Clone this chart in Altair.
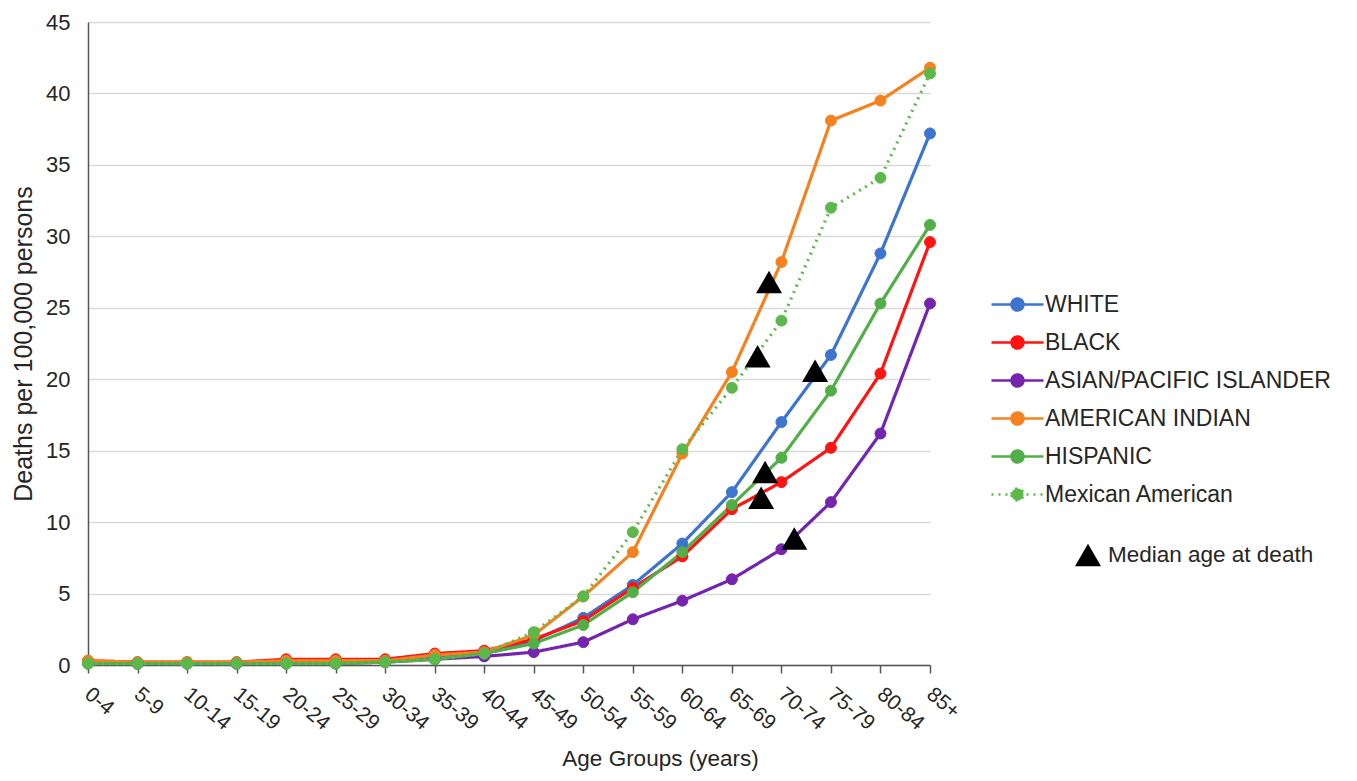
import altair as alt
import pandas as pd

age_groups = ["0-4", "5-9", "10-14", "15-19", "20-24", "25-29", "30-34", "35-39", "40-44",
              "45-49", "50-54", "55-59", "60-64", "65-69", "70-74", "75-79", "80-84", "85+"]

series_names = ["WHITE", "BLACK", "ASIAN/PACIFIC ISLANDER", "AMERICAN INDIAN", "HISPANIC", "Mexican American"]
series_colors = ["#3D74CF", "#FF1414", "#7424AE", "#F5821F", "#52AE47", "#5CB84B"]
series_dash = [[1, 0], [1, 0], [1, 0], [1, 0], [1, 0], [2, 5]]

white = [0.2, 0.1, 0.1, 0.1, 0.2, 0.2, 0.3, 0.6, 0.9, 1.7, 3.3, 5.6, 8.5, 12.1, 17.0, 21.7, 28.8, 37.2]
black = [0.3, 0.2, 0.2, 0.2, 0.4, 0.4, 0.4, 0.8, 1.0, 1.8, 3.1, 5.4, 7.6, 10.9, 12.8, 15.2, 20.4, 29.6]
asian = [0.1, 0.1, 0.1, 0.1, 0.1, 0.1, 0.2, 0.4, 0.6, 0.9, 1.6, 3.2, 4.5, 6.0, 8.1, 11.4, 16.2, 25.3]
american_indian = [0.3, 0.2, 0.2, 0.2, 0.3, 0.3, 0.3, 0.7, 0.9, 2.1, 4.8, 7.9, 14.8, 20.5, 28.2, 38.1, 39.5, 41.8]
hispanic = [0.1, 0.1, 0.1, 0.1, 0.1, 0.1, 0.2, 0.4, 0.8, 1.5, 2.8, 5.1, 7.9, 11.2, 14.5, 19.2, 25.3, 30.8]
mexican_american = [0.1, 0.1, 0.1, 0.1, 0.1, 0.1, 0.2, 0.4, 0.8, 2.3, 4.8, 9.3, 15.1, 19.4, 24.1, 32.0, 34.1, 41.4]

# Median age at death markers: position along the age-group axis (group index) and rate
median_series = ["AMERICAN INDIAN", "Mexican American", "WHITE", "HISPANIC", "BLACK", "ASIAN/PACIFIC ISLANDER"]
median_pos = [13.75, 13.52, 14.68, 13.67, 13.59, 14.26]
median_rate = [26.8, 21.6, 20.6, 13.5, 11.7, 8.85]
median_label = "Median age at death"

all_series = [white, black, asian, american_indian, hispanic, mexican_american]
rows = []
for k, (name, vals) in enumerate(zip(series_names, all_series)):
    for i, (g, v) in enumerate(zip(age_groups, vals)):
        rows.append({"series": name, "idx": i, "age": g, "value": v, "k": k})
df = pd.DataFrame(rows)

tri_df = pd.DataFrame({"series": median_series, "pos": median_pos, "rate": median_rate,
                       "label": [median_label] * len(median_pos)})

FONT = "Liberation Sans"
TXT = "#262626"

label_js = "[" + ",".join("'" + a + "'" for a in age_groups) + "]"

x_axis = alt.Axis(values=list(range(len(age_groups))), labelExpr=label_js + "[datum.value]",
                  labelAngle=40, labelAlign="left", labelBaseline="top", labelFontSize=21,
                  labelFont=FONT, labelColor=TXT, labelPadding=10, labelOffset=6, labelOverlap=False,
                  tickSize=8, tickColor="#555", tickWidth=1.5, domainColor="#555", domainWidth=1.5,
                  grid=False, title="Age Groups (years)", titleFont=FONT, titleFontSize=22.5,
                  titleFontWeight="normal", titleColor=TXT, titleX=572, titleY=93,
                  titleAlign="center", titleBaseline="middle")
y_axis = alt.Axis(values=list(range(0, 46, 5)), ticks=False, labelFontSize=22, labelFont=FONT,
                  labelColor=TXT, labelPadding=18, domainColor="#555", domainWidth=1.5,
                  grid=True, gridColor="#d9d9d9", gridWidth=1.5,
                  title="Deaths per 100,000 persons", titleFont=FONT, titleFontSize=25,
                  titleFontWeight="normal", titleColor=TXT, titlePadding=9)

x_enc = alt.X("idx:Q", scale=alt.Scale(domain=[0, len(age_groups) - 1], nice=False, zero=False), axis=x_axis)
y_enc = alt.Y("value:Q", scale=alt.Scale(domain=[0, 45], nice=False), axis=y_axis)

color_scale = alt.Scale(domain=series_names, range=series_colors)
dash_scale = alt.Scale(domain=series_names, range=series_dash)

leg = alt.Legend(title=None, orient="none", legendX=918, legendY=271,
                 symbolType="M-2.6,0H2.6M-0.6,0A0.6,0.6,0,1,1,0.6,0A0.6,0.6,0,1,1,-0.6,0Z",
                 symbolSize=400, symbolStrokeWidth=2.5, labelFont=FONT, labelFontSize=23,
                 labelColor=TXT, labelOffset=16, rowPadding=14, labelLimit=500)

lines = alt.Chart(df).mark_line(strokeWidth=3.2).encode(
    x=x_enc, y=y_enc,
    stroke=alt.Stroke("series:N", scale=color_scale, legend=leg),
    strokeDash=alt.StrokeDash("series:N", scale=dash_scale, legend=leg),
    order="idx:Q",
)
points = alt.Chart(df).mark_point(filled=True, size=120, opacity=1, strokeWidth=1).encode(
    x=x_enc, y=y_enc,
    fill=alt.Fill("series:N", scale=color_scale, legend=leg),
    stroke=alt.Stroke("series:N", scale=color_scale, legend=leg),
)
tris = alt.Chart(tri_df).mark_point(filled=True, size=676, opacity=1, color="black").encode(
    x=alt.X("pos:Q"), y=alt.Y("rate:Q"),
    shape=alt.Shape("label:N", scale=alt.Scale(domain=[median_label], range=["triangle-up"]),
                    legend=alt.Legend(title=None, orient="none", legendX=986, legendY=519,
                                      symbolSize=676, symbolFillColor="black", symbolStrokeColor="black",
                                      labelFont=FONT, labelFontSize=22.5, labelColor=TXT, labelOffset=6,
                                      labelLimit=500)),
)

chart = alt.layer(lines, points, tris).resolve_legend(shape="independent").properties(
    width=842, height=643,
    autosize=alt.AutoSizeParams(type="none"),
    padding={"left": 80, "top": 14, "right": 419, "bottom": 108},
).configure_view(stroke=None)

chart.save("out.html", embed_options={"renderer": "svg", "actions": False})
